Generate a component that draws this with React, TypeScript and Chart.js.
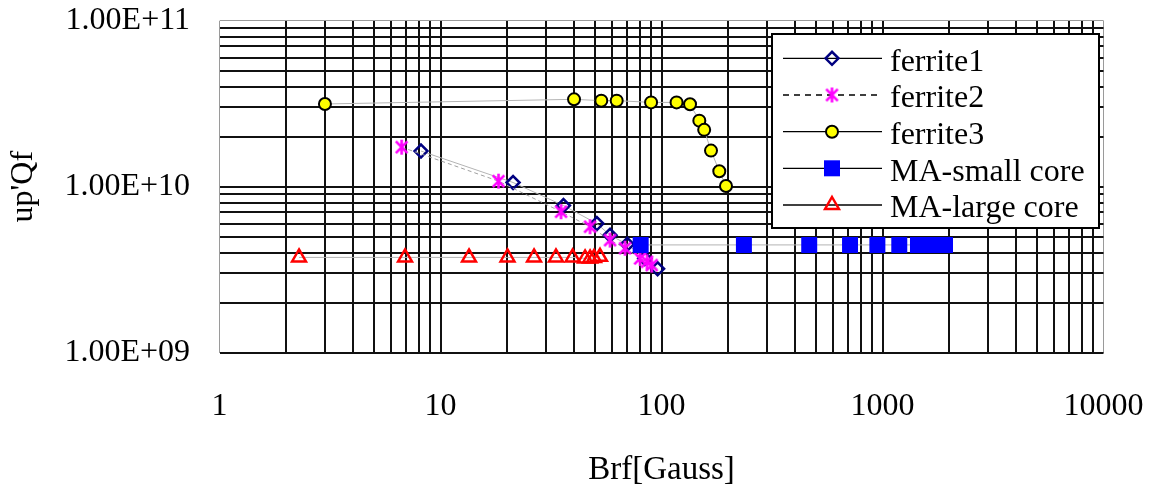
import React, { useEffect, useRef } from 'react';
import { Chart, registerables } from 'chart.js';

Chart.register(...registerables);

// ---- axis ticks ----
const X_MAJOR = [1, 10, 100, 1000, 10000];
const X_TICK_LABELS = ['1', '10', '100', '1000', '10000'];
const Y_MAJOR = [1e9, 1e10, 1e11];
const Y_TICK_LABELS = ['1.00E+09', '1.00E+10', '1.00E+11'];
const MINOR_STEPS = [2, 3, 4, 5, 6, 7, 8, 9];

const X_TITLE = 'Brf[Gauss]';
const Y_TITLE = "up'Qf";

const SERIES_NAMES = ['ferrite1', 'ferrite2', 'ferrite3', 'MA-small core', 'MA-large core'];

// ---- series values ----
const ferrite1B = [8.16, 21.3, 36, 51, 58.5, 70, 84, 96];
const ferrite1Q = [1.64e10, 1.06e10, 7.7e9, 6.0e9, 5.1e9, 4.5e9, 3.7e9, 3.2e9];

const ferrite2B = [6.67, 18.3, 35.1, 47.5, 58.5, 68.4, 80, 86, 90.3];
const ferrite2Q = [1.73e10, 1.08e10, 7.07e9, 5.74e9, 4.77e9, 4.26e9, 3.7e9, 3.53e9, 3.37e9];

const ferrite3B = [3.0, 40.2, 53.4, 62.7, 89.7, 117, 134.6, 148.3, 156, 167.5, 182.6, 195.8];
const ferrite3Q = [3.15e10, 3.36e10, 3.3e10, 3.3e10, 3.22e10, 3.22e10, 3.14e10, 2.5e10, 2.2e10, 1.65e10, 1.24e10, 1.01e10];

const maSmallB = [80.5, 236, 466, 713, 948, 1191, 1447, 1573, 1693, 1821, 1918];
const maSmallQ = [4.46e9, 4.46e9, 4.46e9, 4.46e9, 4.46e9, 4.46e9, 4.46e9, 4.46e9, 4.46e9, 4.46e9, 4.46e9];

const maLargeB = [2.29, 6.91, 13.46, 20.1, 26.5, 33.3, 39.6, 45.1, 47.5, 49.5, 52.7];
const maLargeQ = [3.75e9, 3.75e9, 3.75e9, 3.75e9, 3.75e9, 3.75e9, 3.75e9, 3.7e9, 3.7e9, 3.72e9, 3.78e9];

const FONT = "'Liberation Serif', 'Times New Roman', serif";

const toPoints = (xs: number[], ys: number[]) => xs.map((x, i) => ({ x, y: ys[i] }));

const gridValues = (majors: number[]) => {
  const out: number[] = [];
  majors.forEach((m, i) => {
    out.push(m);
    if (i < majors.length - 1) MINOR_STEPS.forEach((s) => out.push(m * s));
  });
  return out;
};

const makeAsterisk = (): HTMLCanvasElement => {
  const c = document.createElement('canvas');
  c.width = 19;
  c.height = 19;
  const g = c.getContext('2d')!;
  g.strokeStyle = '#ff00ff';
  g.lineWidth = 2.6;
  const m = 9.5, r = 7.5, d = 5.8;
  g.beginPath();
  g.moveTo(m, m - r); g.lineTo(m, m + r);
  g.moveTo(m - d, m - d); g.lineTo(m + d, m + d);
  g.moveTo(m + d, m - d); g.lineTo(m - d, m + d);
  g.stroke();
  return c;
};

export default function App() {
  const ref = useRef<HTMLCanvasElement | null>(null);

  useEffect(() => {
    if (!ref.current) return;
    const asterisk = makeAsterisk();
    const xGrid = gridValues(X_MAJOR);
    const yGrid = gridValues(Y_MAJOR);

    const drawLegendMarker = (ctx: CanvasRenderingContext2D, i: number, x: number, y: number) => {
      ctx.save();
      if (i === 0) {
        const r = 6.5;
        ctx.strokeStyle = '#000080';
        ctx.lineWidth = 2.5;
        ctx.beginPath();
        ctx.moveTo(x - r, y); ctx.lineTo(x, y - r); ctx.lineTo(x + r, y); ctx.lineTo(x, y + r);
        ctx.closePath();
        ctx.stroke();
      } else if (i === 1) {
        ctx.drawImage(asterisk, x - asterisk.width / 2, y - asterisk.height / 2);
      } else if (i === 2) {
        ctx.fillStyle = '#ffff00';
        ctx.strokeStyle = '#000';
        ctx.lineWidth = 2;
        ctx.beginPath();
        ctx.arc(x, y, 6, 0, Math.PI * 2);
        ctx.fill();
        ctx.stroke();
      } else if (i === 3) {
        ctx.fillStyle = '#0000ff';
        ctx.fillRect(x - 8, y - 8, 16, 16);
      } else {
        const r = 8;
        ctx.strokeStyle = '#ff0000';
        ctx.lineWidth = 2.5;
        ctx.beginPath();
        ctx.moveTo(x, y - r);
        ctx.lineTo(x + 0.866 * r, y + 0.5 * r);
        ctx.lineTo(x - 0.866 * r, y + 0.5 * r);
        ctx.closePath();
        ctx.stroke();
      }
      ctx.restore();
    };

    const legendPlugin = {
      id: 'excelLegend',
      afterDraw(chart: any) {
        const ctx: CanvasRenderingContext2D = chart.ctx;
        const bx = 772, by = 34, bw = 327, bh = 194;
        ctx.save();
        ctx.fillStyle = '#fff';
        ctx.fillRect(bx, by, bw, bh);
        ctx.strokeStyle = '#000';
        ctx.lineWidth = 2;
        ctx.strokeRect(bx, by, bw, bh);
        const rows = [58.3, 95, 131.7, 168.3, 205];
        SERIES_NAMES.forEach((name, i) => {
          const y = rows[i];
          ctx.save();
          ctx.strokeStyle = '#000';
          ctx.lineWidth = 1.3;
          if (i === 1) ctx.setLineDash([6, 5]);
          ctx.beginPath();
          ctx.moveTo(783, y);
          ctx.lineTo(882, y);
          ctx.stroke();
          ctx.restore();
          drawLegendMarker(ctx, i, 832, y);
          ctx.fillStyle = '#000';
          ctx.font = `32px ${FONT}`;
          ctx.textAlign = 'left';
          ctx.textBaseline = 'alphabetic';
          ctx.fillText(name, 890, y + 12.4);
        });
        ctx.restore();
      },
    };

    const lineGray = '#b4b4b4';

    const chart = new Chart(ref.current, {
      type: 'scatter',
      data: {
        datasets: [
          {
            label: SERIES_NAMES[0],
            data: toPoints(ferrite1B, ferrite1Q),
            showLine: true,
            borderColor: lineGray,
            borderWidth: 1,
            pointStyle: 'rectRot',
            pointRadius: 6.5,
            pointBorderWidth: 2.5,
            pointBorderColor: '#000080',
            pointBackgroundColor: 'rgba(0,0,0,0)',
            order: 5,
          },
          {
            label: SERIES_NAMES[1],
            data: toPoints(ferrite2B, ferrite2Q),
            showLine: true,
            borderColor: '#a0a0a0',
            borderWidth: 1,
            borderDash: [4, 3],
            pointStyle: asterisk as any,
            pointRadius: 8,
            order: 4,
          },
          {
            label: SERIES_NAMES[2],
            data: toPoints(ferrite3B, ferrite3Q),
            showLine: true,
            borderColor: lineGray,
            borderWidth: 1,
            pointStyle: 'circle',
            pointRadius: 6,
            pointBorderWidth: 2,
            pointBorderColor: '#000',
            pointBackgroundColor: '#ffff00',
            order: 3,
          },
          {
            label: SERIES_NAMES[3],
            data: toPoints(maSmallB, maSmallQ),
            showLine: true,
            borderColor: lineGray,
            borderWidth: 1,
            pointStyle: 'rect',
            pointRadius: 11.3,
            pointBorderWidth: 0,
            pointBorderColor: '#0000ff',
            pointBackgroundColor: '#0000ff',
            order: 2,
          },
          {
            label: SERIES_NAMES[4],
            data: toPoints(maLargeB, maLargeQ),
            showLine: true,
            borderColor: lineGray,
            borderWidth: 1,
            pointStyle: 'triangle',
            pointRadius: 8,
            pointBorderWidth: 2.5,
            pointBorderColor: '#ff0000',
            pointBackgroundColor: 'rgba(0,0,0,0)',
            order: 1,
          },
        ],
      },
      options: {
        animation: false,
        responsive: false,
        events: [],
        layout: { padding: { left: 0, top: 20.7, right: 56.5, bottom: 0 } },
        plugins: {
          legend: { display: false },
          tooltip: { enabled: false },
          title: { display: false },
        },
        scales: {
          x: {
            type: 'logarithmic',
            position: 'bottom',
            min: 1,
            max: 10000,
            afterBuildTicks: (s: any) => {
              s.ticks = xGrid.map((v) => ({ value: v }));
            },
            afterFit: (s: any) => {
              s.height = 494 - 352.7;
              s.paddingLeft = 0;
              s.paddingRight = 0;
              s.paddingTop = 0;
              s.paddingBottom = 0;
            },
            ticks: {
              autoSkip: false,
              maxRotation: 0,
              minRotation: 0,
              padding: 34.6,
              color: '#000',
              font: { family: FONT, size: 32 },
              callback: (v: any) => {
                const i = X_MAJOR.indexOf(Number(v));
                return i >= 0 ? X_TICK_LABELS[i] : '';
              },
            },
            grid: {
              drawTicks: false,
              color: (c: any) => (c.tick && (c.tick.value === 1 || c.tick.value === 10000) ? '#9a9a9a' : '#111'),
              lineWidth: (c: any) => (c.tick && (c.tick.value === 1 || c.tick.value === 10000) ? 1 : 2),
            },
            border: { display: false },
            title: {
              display: true,
              text: X_TITLE,
              color: '#000',
              font: { family: FONT, size: 33 },
              padding: { top: 0, bottom: 4.2 },
            },
          },
          y: {
            type: 'logarithmic',
            position: 'left',
            min: 1e9,
            max: 1e11,
            afterBuildTicks: (s: any) => {
              s.ticks = yGrid.map((v) => ({ value: v }));
            },
            afterFit: (s: any) => {
              s.width = 219.5;
              s.paddingLeft = 0;
              s.paddingRight = 0;
              s.paddingTop = 0;
              s.paddingBottom = 0;
            },
            ticks: {
              autoSkip: false,
              padding: 29.5,
              color: '#000',
              font: { family: FONT, size: 32 },
              callback: (v: any) => {
                const n = Number(v);
                const i = Y_MAJOR.findIndex((m) => Math.abs(m - n) / m < 1e-6);
                return i >= 0 ? Y_TICK_LABELS[i] : '';
              },
            },
            grid: {
              drawTicks: false,
              color: (c: any) => (c.tick && c.tick.value === 1e11 ? '#9a9a9a' : '#111'),
              lineWidth: (c: any) => (c.tick && c.tick.value === 1e11 ? 1 : 2),
            },
            border: { display: false },
            title: {
              display: true,
              text: Y_TITLE,
              color: '#000',
              font: { family: FONT, size: 32 },
              padding: { top: 4, bottom: 0 },
            },
          },
        },
      },
      plugins: [legendPlugin],
    });

    return () => chart.destroy();
  }, []);

  return (
    <div style={{ position: 'absolute', left: 0, top: 0, width: 1160, height: 494, background: '#fff' }}>
      <canvas ref={ref} width={1160} height={494} style={{ display: 'block' }} />
    </div>
  );
}
